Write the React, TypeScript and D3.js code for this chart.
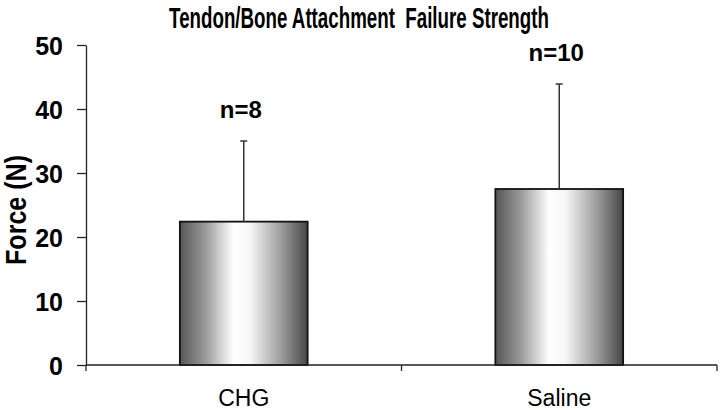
import React, { useEffect, useRef } from "react";
import * as d3 from "d3";

const categories = ["CHG", "Saline"];
const means = [22.4, 27.5];
const upperErr = [12.6, 16.4];
const nLabels = ["n=8", "n=10"];
const yTicks = [0, 10, 20, 30, 40, 50];

const App = () => {
  const svgRef = useRef<SVGSVGElement>(null);

  useEffect(() => {
    const svg = d3.select(svgRef.current);
    svg.selectAll("*").remove();

    const width = 720;
    const height = 410;
    const margin = { top: 45, right: 3, bottom: 45, left: 86 };
    const font = "Liberation Sans, Arial, sans-serif";

    const x = d3
      .scaleBand()
      .domain(categories)
      .range([margin.left, width - margin.right])
      .padding(0);

    const y = d3
      .scaleLinear()
      .domain([0, 50])
      .range([height - margin.bottom, margin.top]);

    // bar gradient (dark edges, white middle)
    const grad = svg
      .append("defs")
      .append("linearGradient")
      .attr("id", "barGrad")
      .attr("x1", "0%")
      .attr("x2", "100%")
      .attr("y1", "0%")
      .attr("y2", "0%");
    [
      [0, "#565656"],
      [0.2, "#9a9a9a"],
      [0.42, "#ffffff"],
      [0.55, "#f6f6f6"],
      [0.8, "#9a9a9a"],
      [1, "#474747"],
    ].forEach(([o, c]) =>
      grad.append("stop").attr("offset", o as number).attr("stop-color", c as string)
    );

    const barW = x.bandwidth() * 0.405;
    const cx = (c: string) => (x(c) as number) + x.bandwidth() / 2;

    // squeeze a text horizontally to a given width (narrow font look)
    const squeeze = (sel: any, w: number, tx: number, ty: number, rot = 0) => {
      const len = sel.node().getComputedTextLength();
      const s = len > 0 ? w / len : 1;
      sel.attr("transform", `translate(${tx},${ty}) rotate(${rot}) scale(${s},1)`);
    };

    // title
    const title = svg
      .append("text")
      .attr("text-anchor", "middle")
      .style("white-space", "pre")
      .style("font-family", font)
      .style("font-weight", "bold")
      .style("font-size", "30px")
      .text("Tendon/Bone Attachment  Failure Strength");
    squeeze(title, 380, 359, 28);

    // y axis
    const yAxis = svg
      .append("g")
      .attr("transform", `translate(${margin.left},0)`)
      .call(
        d3
          .axisLeft(y)
          .tickValues(yTicks)
          .tickSize(9)
          .tickPadding(14)
          .tickSizeOuter(0)
      );
    yAxis.select(".domain").attr("stroke", "#222").attr("stroke-width", 1.3);
    yAxis.selectAll(".tick line").attr("stroke", "#222").attr("stroke-width", 1.3);
    yAxis
      .selectAll(".tick text")
      .attr("dy", "0.36em")
      .style("font-family", font)
      .style("font-weight", "bold")
      .style("font-size", "25px")
      .attr("fill", "#000");

    // y label
    const yLabel = svg
      .append("text")
      .attr("text-anchor", "middle")
      .style("font-family", font)
      .style("font-weight", "bold")
      .style("font-size", "29px")
      .text("Force (N)");
    squeeze(yLabel, 110, 26, 210, -90);

    // bars
    svg
      .append("g")
      .selectAll("rect")
      .data(categories)
      .join("rect")
      .attr("x", (d) => cx(d) - barW / 2)
      .attr("width", barW)
      .attr("y", (d, i) => y(means[i]))
      .attr("height", (d, i) => y(0) - y(means[i]))
      .attr("fill", "url(#barGrad)")
      .attr("stroke", "#111")
      .attr("stroke-width", 1.8);

    // error bars (upper only)
    const eb = svg.append("g").attr("stroke", "#333").attr("stroke-width", 1.5);
    categories.forEach((c, i) => {
      eb.append("line")
        .attr("x1", cx(c))
        .attr("x2", cx(c))
        .attr("y1", y(means[i]))
        .attr("y2", y(means[i] + upperErr[i]));
      eb.append("line")
        .attr("x1", cx(c) - 3.5)
        .attr("x2", cx(c) + 3.5)
        .attr("y1", y(means[i] + upperErr[i]))
        .attr("y2", y(means[i] + upperErr[i]));
    });

    // n labels
    svg
      .append("g")
      .selectAll("text")
      .data(categories)
      .join("text")
      .attr("x", (d) => cx(d) - 3)
      .attr("y", (d, i) => y(means[i] + upperErr[i]) - 23)
      .attr("text-anchor", "middle")
      .style("font-family", font)
      .style("font-weight", "bold")
      .style("font-size", "24px")
      .text((d, i) => nLabels[i]);

    // x axis
    const xAxis = svg
      .append("g")
      .attr("transform", `translate(0,${y(0)})`);
    xAxis
      .append("line")
      .attr("x1", margin.left)
      .attr("x2", width - margin.right)
      .attr("stroke", "#222")
      .attr("stroke-width", 1.3);
    const bounds = [margin.left, ...categories.map((c) => (x(c) as number) + x.bandwidth())];
    xAxis
      .selectAll(".xt")
      .data(bounds)
      .join("line")
      .attr("x1", (d) => d)
      .attr("x2", (d) => d)
      .attr("y1", 0)
      .attr("y2", 6)
      .attr("stroke", "#222")
      .attr("stroke-width", 1.3);
    xAxis
      .selectAll(".xl")
      .data(categories)
      .join("text")
      .attr("x", (d) => cx(d))
      .attr("y", 41)
      .attr("text-anchor", "middle")
      .style("font-family", font)
      .style("font-size", "23px")
      .text((d) => d);
  }, []);

  return (
    <svg
      ref={svgRef}
      width={720}
      height={410}
      style={{ position: "absolute", left: 0, top: 0, background: "#fff" }}
    ></svg>
  );
};

export default App;
